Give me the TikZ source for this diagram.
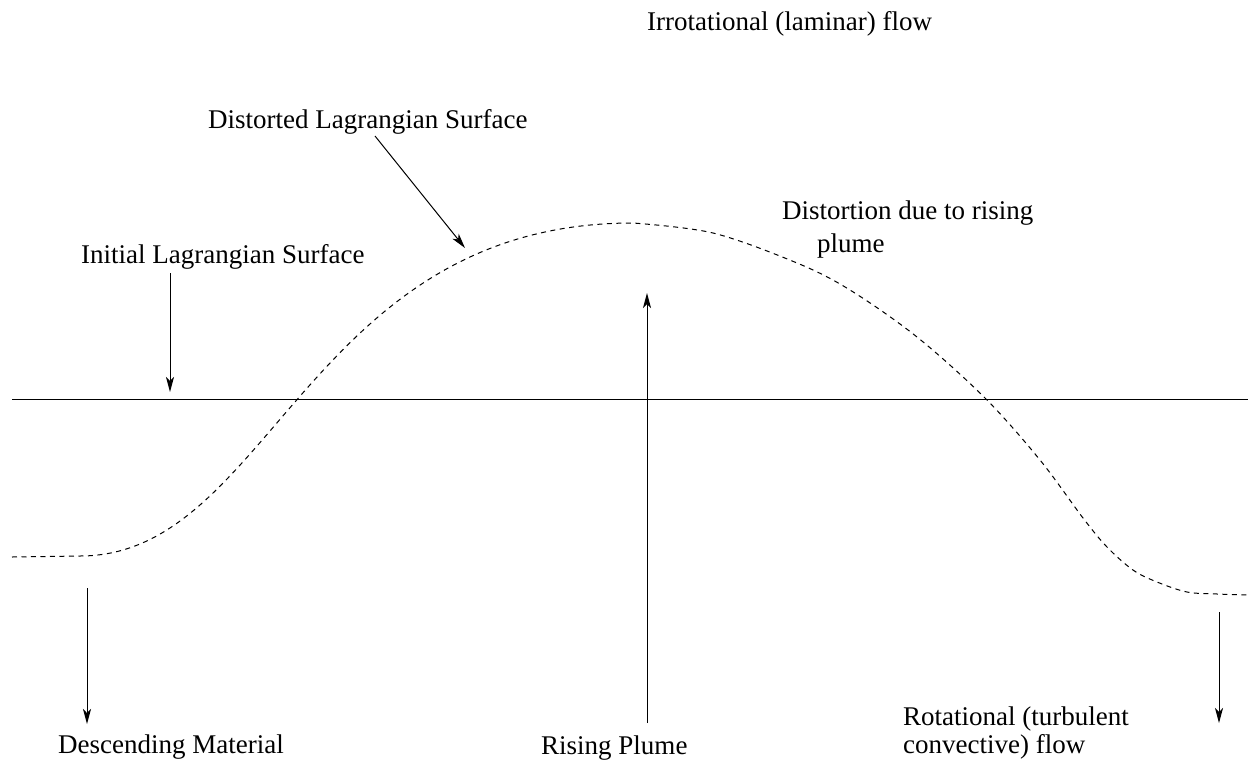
\documentclass[tikz,border=0pt]{standalone}
\usepackage{fontspec}
\setmainfont{Liberation Serif}
\usetikzlibrary{arrows.meta}
\tikzset{
  lbl/.style={anchor=base west, inner sep=0pt, font=\fontsize{27}{33}\selectfont},
  arr/.style={line width=1pt, -{Stealth[length=15pt,width=8pt,inset=4pt]}},
  surf/.style={line width=1pt, dash pattern=on 5pt off 4.5pt},
  flat/.style={line width=1pt}
}
\begin{document}
\begin{tikzpicture}[x=1pt,y=-1pt]
\useasboundingbox (0,0) rectangle (1248,761);
% labels
\node[lbl] (irr) at (647,30) {Irrotational (laminar) flow};
\node[lbl] (dist) at (208,128) {Distorted Lagrangian Surface};
\node[lbl] (init) at (81,263) {Initial Lagrangian Surface};
\node[lbl] (drise1) at (782,219) {Distortion due to rising};
\node[lbl] (drise2) at (817,252) {plume};
\node[lbl] (desc) at (58,753) {Descending Material};
\node[lbl] (rise) at (541,754) {Rising Plume};
\node[lbl] (rot1) at (903,725) {Rotational (turbulent};
\node[lbl] (rot2) at (903,753) {convective) flow};
% surfaces
\coordinate (hl) at (12,399);
\coordinate (hr) at (1248,399);
\draw[flat] (hl) -- (hr);
\coordinate (peak) at (633,223);
\draw[surf] (12,557) -- (80,556) .. controls (271,556) and (307,223) .. (peak)
  -- plot[smooth, tension=0.55] coordinates {
 (633,223) (713,233) (797,263) (850,290) (917,337) (985,398) (1040,460)
 (1083,518) (1107,547) (1133,570) (1157,582) (1187,592) (1217,594) (1248,595)};
% arrows
\coordinate (a1s) at (87,588);   \coordinate (a1e) at (87,724);
\coordinate (a2s) at (1219,612); \coordinate (a2e) at (1219,723);
\coordinate (a3s) at (647,723);  \coordinate (a3e) at (647,293);
\coordinate (a4s) at (170,273);  \coordinate (a4e) at (170,392);
\coordinate (a5s) at (375,136);  \coordinate (a5e) at (465,248);
\draw[arr] (a1s) -- (a1e);
\draw[arr] (a2s) -- (a2e);
\draw[arr] (a3s) -- (a3e);
\draw[arr] (a4s) -- (a4e);
\draw[arr] (a5s) -- (a5e);
\end{tikzpicture}
\end{document}
